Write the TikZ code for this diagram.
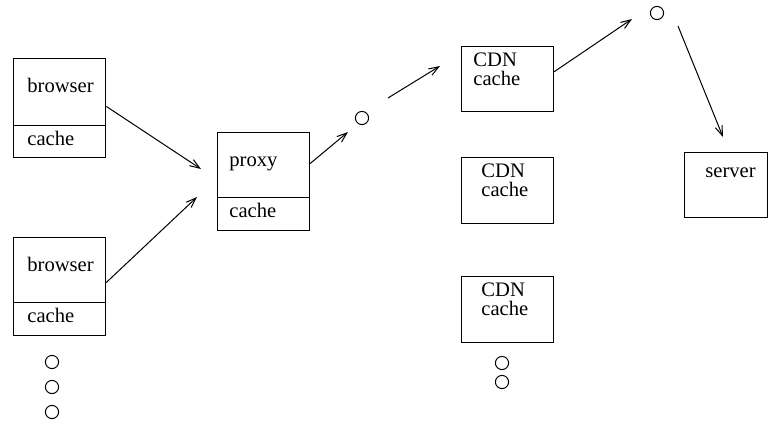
\documentclass[tikz,border=0pt]{standalone}
\usepackage{fontspec}
\setmainfont{Liberation Serif}
\usetikzlibrary{arrows.meta}

\tikzset{
  box/.style 2 args={draw, line width=0.6pt, inner sep=0pt, anchor=north west,
    minimum width=#1*0.5pt, minimum height=#2*0.5pt},
  txt/.style={anchor=base west, inner sep=0pt, font=\fontsize{10.3}{12}\selectfont},
  dot/.style={draw, circle, line width=0.5pt, minimum size=6.6pt, inner sep=0pt},
  flow/.style={line width=0.5pt, -{Straight Barb[length=5pt,width=3.6pt]}}
}

\begin{document}
\begin{tikzpicture}[x=0.5pt, y=-0.5pt]
  \useasboundingbox (0,0) rectangle (768,425);

  % clients: browser with its local cache underneath
  \foreach \n/\y/\h/\c in {1/58/67/32, 2/237/65/33}{
    \node[box={92}{\h}] (br\n) at (13,\y) {};
    \node[box={92}{\c}] (brc\n) at (13,\y+\h) {};
    \node[txt] (brt\n) at (27,\y+34) {browser};
    \node[txt] (brct\n) at (27,\y+\h+20) {cache};
  }
  \foreach \i/\y in {1/362, 2/387, 3/412}
    \node[dot] (bdot\i) at (52,\y) {};

  % proxy with its shared cache
  \node[box={92}{65}] (px) at (217,132) {};
  \node[box={92}{33}] (pxc) at (217,197) {};
  \node[txt] (pxt) at (229,166) {proxy};
  \node[txt] (pxct) at (229,217) {cache};

  % CDN caches
  \foreach \n/\y/\h/\dx in {1/46/65/12, 2/157/66/20, 3/276/66/20}{
    \node[box={92}{\h}] (cdn\n) at (461,\y) {};
    \node[txt] (cdnt\n) at (461+\dx,\y+20) {CDN};
    \node[txt] (cdnct\n) at (461+\dx,\y+39) {cache};
  }
  \foreach \i/\y in {1/363, 2/382}
    \node[dot] (cdot\i) at (502,\y) {};

  % origin server
  \node[box={83}{65}] (srv) at (684,152) {};
  \node[txt] (srvt) at (705,177) {server};

  % intermediate hops
  \node[dot] (hop1) at (362,118) {};
  \node[dot] (hop2) at (657,13) {};

  % arrow ends
  \coordinate (pin1) at (201,169);
  \coordinate (pin2) at (197,197);
  \coordinate (hop1in) at (348,132);
  \coordinate (hop1out) at (388,98);
  \coordinate (cdnin) at (440,66);
  \coordinate (hop2in) at (632,19);
  \coordinate (hop2out) at (678,26);
  \coordinate (srvin) at (723,137);

  \draw[flow] (br1.-17.5) -- (pin1);
  \draw[flow] (br2.-15.2) -- (pin2);
  \draw[flow] (px.2) -- (hop1in);
  \draw[flow] (hop1out) -- (cdnin);
  \draw[flow] (cdn1.9.2) -- (hop2in);
  \draw[flow] (hop2out) -- (srvin);
\end{tikzpicture}
\end{document}
